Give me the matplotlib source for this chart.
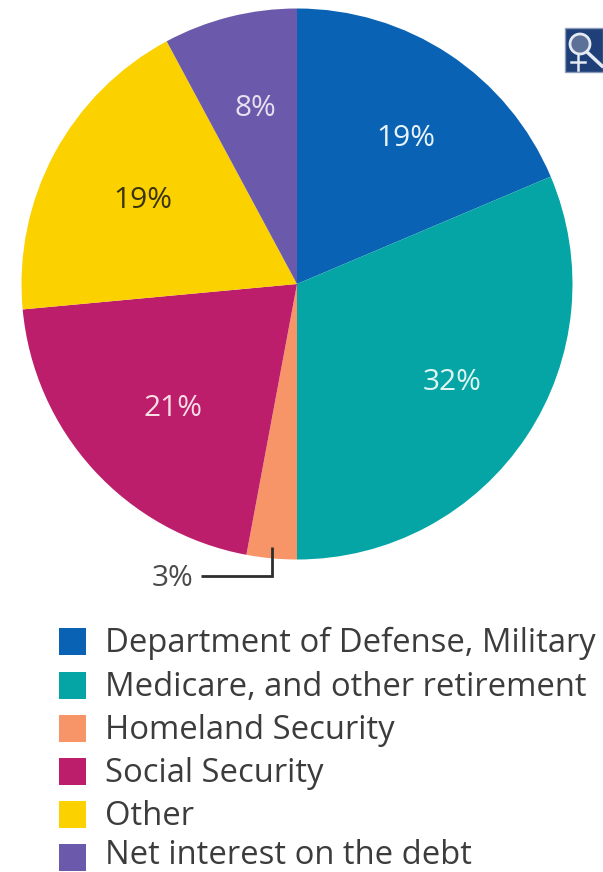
import matplotlib
matplotlib.use("Agg")
import matplotlib.pyplot as plt
from matplotlib.patches import Rectangle, Circle

categories = ["Department of Defense, Military", "Medicare, and other retirement",
              "Homeland Security", "Social Security", "Other", "Net interest on the debt"]
shares = [19, 32, 3, 21, 19, 8]
colors = ["#0A62B4", "#06A5A5", "#F79468", "#BC1E6B", "#FBD100", "#6B5AAB"]
label_colors = ["#E8F4F8", "#E0F5F2", "#4A4A4A", "#F6DDE6", "#3A3410", "#E6E0F0"]
label_xy = [(406, 138), (452, 383), (173, 578), (173, 409), (143, 200), (255, 109)]

W, H = 603, 872
plt.rcParams["font.family"] = ["Open Sans", "DejaVu Sans"]
fig = plt.figure(figsize=(W / 100, H / 100), dpi=100)
ax = fig.add_axes([0, 0, 1, 1])


def flip(y):
    # layout below is measured from the top edge of the figure
    return H - y


ax.pie(shares, colors=colors, startangle=90, counterclock=False,
       center=(297, flip(284)), radius=275.5, frame=True)
ax.set_xlim(0, W)
ax.set_ylim(0, H)
ax.set_aspect("equal")
ax.axis("off")

# percentage labels
for (x, y), val, col in zip(label_xy, shares, label_colors):
    ax.text(x, flip(y), f"{val}%", color=col, fontsize=21.5,
            ha="center", va="center")

# leader line for the narrow slice
ax.plot([201, 272, 272], [flip(576), flip(576), flip(547)],
        color="#2E2E2E", lw=2, solid_joinstyle="miter", solid_capstyle="butt")

# legend swatches and names
swatch_y = [642, 686, 729, 772, 815, 858]
text_y = [643, 687, 730, 773, 816, 855]
for name, col, sy, ty in zip(categories, colors, swatch_y, text_y):
    ax.add_patch(Rectangle((59, flip(sy + 13)), 27, 27, facecolor=col, edgecolor="none"))
    ax.text(105, flip(ty), name, color="#3C3C3C", fontsize=23.6, ha="left", va="center")

# magnifier button
ax.add_patch(Rectangle((565, flip(72)), 38, 44, facecolor="#1F3F78", edgecolor="#8C9BB8", lw=1))
ax.add_patch(Circle((580, flip(44)), 10, facecolor="#5C7098", edgecolor="#E4EAF2", lw=2))
ax.plot([587, 602], [flip(52), flip(66)], color="#E4EAF2", lw=2.5)
ax.plot([578, 578], [flip(54), flip(70)], color="#E4EAF2", lw=1.8)
ax.plot([571, 585], [flip(62), flip(62)], color="#E4EAF2", lw=1.8)

fig.savefig("out.png", dpi=100, facecolor="white")
